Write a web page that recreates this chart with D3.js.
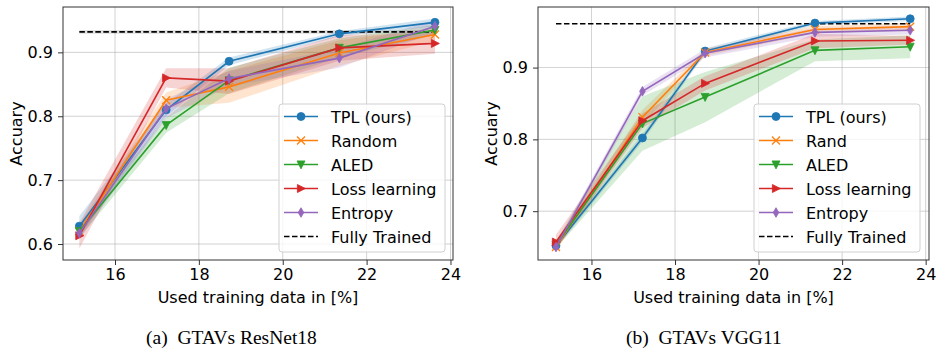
<!DOCTYPE html>
<html>
<head>
<meta charset="utf-8">
<script src="https://cdn.jsdelivr.net/npm/d3@7"></script>
<style>
  body { margin: 0; background: #fff; }
  svg text { font-family: "DejaVu Sans", sans-serif; }
  .caption { font-family: "Liberation Serif", "Times New Roman", serif; }
</style>
</head>
<body>
<svg id="chart" width="936" height="349"></svg>
<script>
// x positions (used training data in %)
const xVals = [15.15, 17.22, 18.72, 21.35, 23.63];

const seriesNamesA = ['TPL (ours)', 'Random', 'ALED', 'Loss learning', 'Entropy'];
const seriesNamesB = ['TPL (ours)', 'Rand', 'ALED', 'Loss learning', 'Entropy'];
const colors = ['#1f77b4', '#ff7f0e', '#2ca02c', '#d62728', '#9467bd'];
const markers = ['circle', 'x', 'vtri', 'rtri', 'diamond'];

// (a) GTAVs ResNet18
const tplA = [0.628, 0.810, 0.886, 0.929, 0.947];
const randA = [0.620, 0.825, 0.846, 0.899, 0.928];
const aledA = [0.620, 0.786, 0.856, 0.907, 0.935];
const lossA = [0.613, 0.860, 0.855, 0.907, 0.914];
const entA = [0.617, 0.812, 0.859, 0.891, 0.941];
const tplStdA = [0.016, 0.010, 0.006, 0.004, 0.006];
const randStdA = [0.010, 0.012, 0.025, 0.020, 0.010];
const aledStdA = [0.010, 0.012, 0.020, 0.015, 0.008];
const lossStdA = [0.020, 0.015, 0.020, 0.020, 0.016];
const entStdA = [0.010, 0.015, 0.012, 0.015, 0.010];
const fullA = 0.932, fullStdA = 0.003;

// (b) GTAVs VGG11
const tplB = [0.652, 0.802, 0.923, 0.962, 0.968];
const randB = [0.650, 0.831, 0.921, 0.953, 0.957];
const aledB = [0.653, 0.822, 0.859, 0.924, 0.929];
const lossB = [0.657, 0.826, 0.878, 0.937, 0.938];
const entB = [0.650, 0.867, 0.920, 0.949, 0.952];
const tplStdB = [0.004, 0.005, 0.004, 0.003, 0.003];
const randStdB = [0.005, 0.010, 0.005, 0.005, 0.005];
const aledStdB = [0.005, 0.038, 0.035, 0.015, 0.016];
const lossStdB = [0.010, 0.010, 0.010, 0.010, 0.006];
const entStdB = [0.005, 0.006, 0.006, 0.006, 0.006];
const fullB = 0.961, fullStdB = 0.001;

const xTicks = [16, 18, 20, 22, 24];
const yTicksA = [0.6, 0.7, 0.8, 0.9];
const yTicksB = [0.7, 0.8, 0.9];

const svg = d3.select('#chart');

function markerPath(type, r) {
  switch (type) {
    case 'circle': return d3.symbol(d3.symbolCircle, Math.PI * r * r)();
    case 'x': return `M${-r},${-r}L${r},${r}M${-r},${r}L${r},${-r}`;
    case 'vtri': return `M${-r},${-r * 0.9}L${r},${-r * 0.9}L0,${r * 1.1}Z`;
    case 'rtri': return `M${-r * 0.9},${-r}L${r * 1.1},0L${-r * 0.9},${r}Z`;
    case 'diamond': return `M0,${-r * 1.2}L${r * 0.7},0L0,${r * 1.2}L${-r * 0.7},0Z`;
  }
}

function drawPanel(cfg) {
  const { left, right, top, bottom, xDomain, yDomain, yTicks, names, means, stds, full, fullStd, fullBand, caption, captionX, ylabelX, legend } = cfg;
  const x = d3.scaleLinear().domain(xDomain).range([left, right]);
  const y = d3.scaleLinear().domain(yDomain).range([bottom, top]);
  const g = svg.append('g');

  // grid
  g.append('g').selectAll('line').data(xTicks).join('line')
    .attr('x1', d => x(d)).attr('x2', d => x(d)).attr('y1', top).attr('y2', bottom)
    .attr('stroke', '#b0b0b0').attr('stroke-width', 0.8).attr('opacity', 0.7);
  g.append('g').selectAll('line').data(yTicks).join('line')
    .attr('y1', d => y(d)).attr('y2', d => y(d)).attr('x1', left).attr('x2', right)
    .attr('stroke', '#b0b0b0').attr('stroke-width', 0.8).attr('opacity', 0.7);

  const clip = 'clip' + caption.charCodeAt(1);
  svg.append('clipPath').attr('id', clip).append('rect')
    .attr('x', left).attr('y', top).attr('width', right - left).attr('height', bottom - top);
  const plot = g.append('g').attr('clip-path', `url(#${clip})`);

  const area = d3.area().x((d, i) => x(xVals[i])).y0(d => y(d[0] - d[1])).y1(d => y(d[0] + d[1]));
  const line = d3.line().x((d, i) => x(xVals[i])).y(d => y(d));

  // fully trained band + line
  if (fullBand) {
    plot.append('rect').attr('x', x(xVals[0])).attr('width', x(xVals[4]) - x(xVals[0]))
      .attr('y', y(full + fullStd)).attr('height', y(full - fullStd) - y(full + fullStd))
      .attr('fill', '#000').attr('opacity', 0.12);
  }

  // std bands
  means.forEach((m, s) => {
    plot.append('path').datum(m.map((v, i) => [v, stds[s][i]]))
      .attr('d', area).attr('fill', colors[s]).attr('opacity', 0.2);
  });

  plot.append('line').attr('x1', x(xVals[0])).attr('x2', x(xVals[4]))
    .attr('y1', y(full)).attr('y2', y(full))
    .attr('stroke', '#000').attr('stroke-width', 1.6).attr('stroke-dasharray', '5.5,2.5');

  // lines + markers
  means.forEach((m, s) => {
    plot.append('path').datum(m).attr('d', line).attr('fill', 'none')
      .attr('stroke', colors[s]).attr('stroke-width', 1.6);
    plot.append('g').selectAll('path').data(m).join('path')
      .attr('transform', (d, i) => `translate(${x(xVals[i])},${y(d)})`)
      .attr('d', markerPath(markers[s], 4))
      .attr('fill', markers[s] === 'x' ? 'none' : colors[s])
      .attr('stroke', colors[s]).attr('stroke-width', markers[s] === 'x' ? 1.3 : 0.8);
  });

  // axes
  const xAxis = g.append('g').attr('transform', `translate(0,${bottom})`)
    .call(d3.axisBottom(x).tickValues(xTicks).tickSize(5).tickPadding(4).tickFormat(d3.format('d')));
  const yAxis = g.append('g').attr('transform', `translate(${left},0)`)
    .call(d3.axisLeft(y).tickValues(yTicks).tickSize(5).tickPadding(5).tickFormat(d3.format('.1f')));
  [xAxis, yAxis].forEach(a => {
    a.select('.domain').remove();
    a.selectAll('text').attr('font-size', 16).attr('fill', '#000').attr('font-family', 'DejaVu Sans');
    a.selectAll('line').attr('stroke', '#333').attr('stroke-width', 1);
  });

  g.append('rect').attr('x', left).attr('y', top).attr('width', right - left).attr('height', bottom - top)
    .attr('fill', 'none').attr('stroke', '#333').attr('stroke-width', 1);

  g.append('text').attr('x', (left + right) / 2).attr('y', bottom + 43)
    .attr('text-anchor', 'middle').attr('font-size', 16).text('Used training data in [%]');
  g.append('text').attr('transform', `translate(${ylabelX},${(top + bottom) / 2}) rotate(-90)`)
    .attr('text-anchor', 'middle').attr('font-size', 16).text('Accuary');

  // legend
  const lg = g.append('g').attr('transform', `translate(${legend.x},${legend.y})`);
  lg.append('rect').attr('width', legend.w).attr('height', 148).attr('rx', 3)
    .attr('fill', '#fff').attr('fill-opacity', 0.8).attr('stroke', '#d0d0d0').attr('stroke-width', 1);
  const entries = names.map((n, i) => ({ n, i })).concat([{ n: 'Fully Trained', i: -1 }]);
  entries.forEach((e, k) => {
    const cy = 12.5 + k * 24;
    const row = lg.append('g').attr('transform', `translate(0,${cy})`);
    if (e.i >= 0) {
      row.append('line').attr('x1', 5).attr('x2', 39).attr('stroke', colors[e.i]).attr('stroke-width', 1.6);
      row.append('path').attr('transform', 'translate(22,0)').attr('d', markerPath(markers[e.i], 4))
        .attr('fill', markers[e.i] === 'x' ? 'none' : colors[e.i])
        .attr('stroke', colors[e.i]).attr('stroke-width', markers[e.i] === 'x' ? 1.3 : 0.8);
    } else {
      row.append('line').attr('x1', 5).attr('x2', 39).attr('stroke', '#000')
        .attr('stroke-width', 1.6).attr('stroke-dasharray', '5.5,2.5');
    }
    row.append('text').attr('x', 52).attr('y', 6).attr('font-size', 16).text(e.n);
  });

  svg.append('text').attr('class', 'caption').attr('x', captionX).attr('y', 344)
    .attr('font-size', 19.5).text(caption);
}

drawPanel({
  left: 63, right: 453, top: 7, bottom: 260,
  xDomain: [14.76, 24.06], yDomain: [0.575, 0.971], yTicks: yTicksA,
  names: seriesNamesA, means: [tplA, randA, aledA, lossA, entA],
  stds: [tplStdA, randStdA, aledStdA, lossStdA, entStdA],
  full: fullA, fullStd: fullStdA, fullBand: true,
  caption: '(a)\u2002GTAVs ResNet18', captionX: 146, ylabelX: 22,
  legend: { x: 279, y: 104, w: 166 }
});

drawPanel({
  left: 538, right: 929, top: 7, bottom: 260,
  xDomain: [14.72, 24.08], yDomain: [0.632, 0.9844], yTicks: yTicksB,
  names: seriesNamesB, means: [tplB, randB, aledB, lossB, entB],
  stds: [tplStdB, randStdB, aledStdB, lossStdB, entStdB],
  full: fullB, fullStd: fullStdB, fullBand: false,
  caption: '(b)\u2002GTAVs VGG11', captionX: 626, ylabelX: 497,
  legend: { x: 754, y: 104, w: 166 }
});
</script>
</body>
</html>
